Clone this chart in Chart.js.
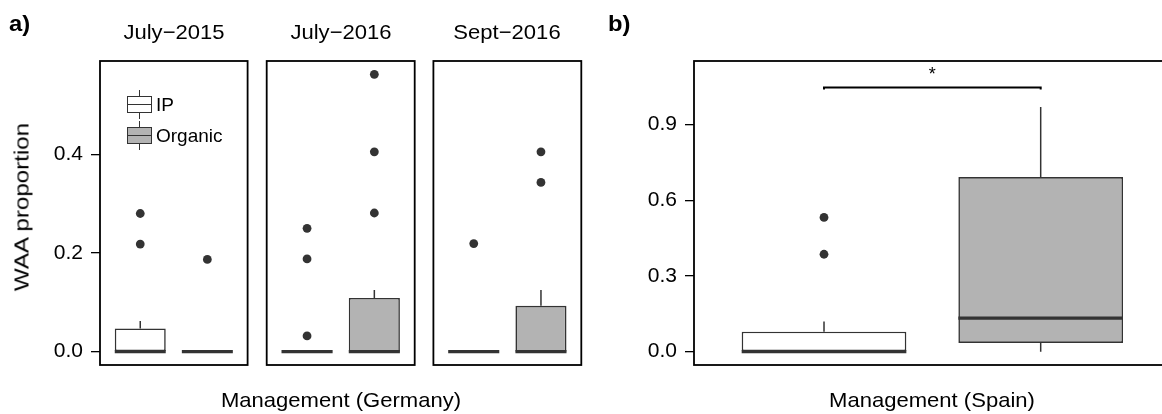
<!DOCTYPE html>
<html>
<head>
<meta charset="utf-8">
<script src="https://cdn.jsdelivr.net/npm/chart.js@4/dist/chart.umd.min.js"></script>
<style>
  html, body { margin: 0; padding: 0; background: #fff; overflow: hidden; width: 1162px; height: 414px; }
  body { position: relative; font-family: "Liberation Sans", Arial, Helvetica, sans-serif; color: #000; }
  canvas { position: absolute; top: 0; }
  .lbl { position: absolute; white-space: nowrap; line-height: 1; transform-origin: 0 0; }
  .key { position: absolute; box-sizing: border-box; border: 1.5px solid #333; }
  .key .mid { position: absolute; left: 0; right: 0; top: 50%; height: 1.5px; margin-top: -0.75px; background: #333; }
  .stem { position: absolute; width: 1.5px; background: #333; }
</style>
</head>
<body>
<canvas id="germany1" width="252" height="414" style="left:0px"></canvas>
<canvas id="germany2" width="158" height="414" style="left:262px"></canvas>
<canvas id="germany3" width="158" height="414" style="left:429px"></canvas>
<canvas id="spain" width="600" height="414" style="left:590px"></canvas>

<script>
// ---- data ---------------------------------------------------------------
const groups = ['IP', 'Organic'];
const groupX = [1, 2];
const germanySurveys = ['July\u22122015', 'July\u22122016', 'Sept\u22122016'];

// five-number summaries: [lower whisker, Q1, median, Q3, upper whisker]
const germanyIP = [
  [0, 0, 0, 0.047, 0.062],
  [0, 0, 0, 0, 0],
  [0, 0, 0, 0, 0]
];
const germanyOrganic = [
  [0, 0, 0, 0, 0],
  [0, 0, 0, 0.109, 0.125],
  [0, 0, 0, 0.093, 0.125]
];
const germanyIPOutliers = [
  [0.280, 0.218],
  [0.250, 0.188, 0.032],
  [0.219]
];
const germanyOrganicOutliers = [
  [0.187],
  [0.562, 0.405, 0.281],
  [0.405, 0.343]
];

const spainIP = [0, 0, 0, 0.079, 0.119];
const spainOrganic = [0, 0.0345, 0.133, 0.692, 0.970];
const spainIPOutliers = [0.532, 0.386];
const spainOrganicOutliers = [];

const germanyTicks = [0, 0.2, 0.4];
const germanyTickLabels = ['0.0', '0.2', '0.4'];
const spainTicks = [0, 0.3, 0.6, 0.9];
const spainTickLabels = ['0.0', '0.3', '0.6', '0.9'];

// significance bracket between the two Spanish groups
const sigPair = [1, 2];
const sigLevel = 1.047;
const sigLabel = '*';

// ---- styling ------------------------------------------------------------
const FONT = '"Liberation Sans", Arial, Helvetica, sans-serif';
const INK = '#333333';
const FILLS = ['#ffffff', '#b3b3b3'];
const BOX_WIDTH = 0.76;

Chart.defaults.font.family = FONT;

const framePlugin = {
  id: 'panelFrame',
  afterDraw(chart) {
    const a = chart.chartArea, c = chart.ctx;
    c.save();
    c.strokeStyle = '#000';
    c.lineWidth = 1.8;
    c.strokeRect(a.left, a.top, a.right - a.left, a.bottom - a.top);
    c.restore();
  }
};

const sigStarPlugin = {
  id: 'sigStar',
  afterDatasetsDraw(chart) {
    const x = chart.scales.x, y = chart.scales.y, c = chart.ctx;
    c.save();
    c.fillStyle = '#000';
    c.font = '18px ' + FONT;
    c.textAlign = 'center';
    c.textBaseline = 'middle';
    c.fillText(sigLabel, x.getPixelForValue((sigPair[0] + sigPair[1]) / 2), y.getPixelForValue(sigLevel) - 12);
    c.restore();
  }
};

function boxDatasets(stats, outliers) {
  const half = BOX_WIDTH / 2;
  const whisker = [], median = [], points = [];
  stats.forEach((s, i) => {
    const x = groupX[i];
    whisker.push({x, y: s[3]}, {x, y: s[4]}, {x, y: null}, {x, y: s[1]}, {x, y: s[0]}, {x, y: null});
    median.push({x: x - half, y: s[2]}, {x: x + half, y: s[2]}, {x, y: null});
    outliers[i].forEach(v => points.push({x, y: v}));
  });
  return [
    { type: 'line', data: median, borderColor: INK, borderWidth: 3.2, borderCapStyle: 'butt',
      pointRadius: 0, spanGaps: false },
    { type: 'line', data: points, showLine: false, pointRadius: 4.4,
      pointBackgroundColor: INK, pointBorderWidth: 0 },
    { type: 'bar', data: stats.map((s, i) => ({x: groupX[i], y: [s[1], s[3]]})),
      backgroundColor: FILLS, borderColor: INK, borderWidth: 1.6, borderSkipped: false,
      barPercentage: BOX_WIDTH, categoryPercentage: 1 },
    { type: 'line', data: whisker, borderColor: INK, borderWidth: 1.5, borderCapStyle: 'butt',
      pointRadius: 0, spanGaps: false }
  ];
}

function xScale() {
  return {
    type: 'linear', min: 0.4, max: 2.6, display: false, offset: false,
    grid: { offset: false },
    afterBuildTicks: s => { s.ticks = groupX.map(v => ({value: v})); }
  };
}

function yScale(min, max, ticks, labels, show, axisWidth) {
  return {
    type: 'linear', min, max, display: show,
    afterBuildTicks: s => { s.ticks = ticks.map(v => ({value: v})); },
    afterFit: s => { if (show) s.width = axisWidth; },
    ticks: { callback: (v, i) => labels[i], font: {size: 21}, color: '#000', padding: 8, autoSkip: false },
    grid: { drawOnChartArea: false, drawTicks: true, tickLength: 9, color: '#000', lineWidth: 1.3 },
    border: { display: false }
  };
}

function makeChart(id, datasets, y, padding, extraPlugins) {
  return new Chart(document.getElementById(id), {
    type: 'bar',
    data: { datasets },
    options: {
      responsive: false, animation: false, events: [],
      layout: { padding },
      plugins: { legend: { display: false }, tooltip: { enabled: false } },
      scales: { x: xScale(), y }
    },
    plugins: [framePlugin].concat(extraPlugins || [])
  });
}

// ---- Germany: three survey panels --------------------------------------
const germanyPads = [
  {left: 0, right: 4, top: 61, bottom: 49},
  {left: 4.7, right: 5.3, top: 61, bottom: 49},
  {left: 4.3, right: 5.7, top: 61, bottom: 49}
];
germanySurveys.forEach((name, k) => {
  makeChart('germany' + (k + 1),
    boxDatasets([germanyIP[k], germanyOrganic[k]], [germanyIPOutliers[k], germanyOrganicOutliers[k]]),
    yScale(-0.027, 0.589, germanyTicks, germanyTickLabels, k === 0, 100),
    germanyPads[k]);
});

// ---- Spain ---------------------------------------------------------------
const spainSets = boxDatasets([spainIP, spainOrganic], [spainIPOutliers, spainOrganicOutliers]);
spainSets.push({
  type: 'line',
  data: [
    {x: sigPair[0], y: sigLevel - 0.008}, {x: sigPair[0], y: sigLevel},
    {x: sigPair[1], y: sigLevel}, {x: sigPair[1], y: sigLevel - 0.008}
  ],
  borderColor: '#000', borderWidth: 2, pointRadius: 0
});
makeChart('spain', spainSets,
  yScale(-0.053, 1.152, spainTicks, spainTickLabels, true, 104),
  {left: 0, right: 19.3, top: 61, bottom: 49},
  [sigStarPlugin]);

// ---- text ---------------------------------------------------------------
const ASC = 0.8465; // baseline offset of Liberation Sans at line-height 1
function label(text, cx, baseline, size, opts = {}) {
  const d = document.createElement('div');
  d.className = 'lbl';
  d.textContent = text;
  d.style.fontSize = size + 'px';
  if (opts.bold) d.style.fontWeight = 'bold';
  d.style.left = cx + 'px';
  d.style.top = (baseline - ASC * size) + 'px';
  const sx = opts.sx || 1;
  d.style.transform = opts.left ? `scaleX(${sx})` : `scaleX(${sx}) translateX(-50%)`;
  document.body.appendChild(d);
  return d;
}

label('a)', 9, 31.5, 22, {bold: true, sx: 1.08, left: true});
label('b)', 608, 31.5, 22, {bold: true, sx: 1.08, left: true});
const titleCenters = [174, 340.7, 507.3];
germanySurveys.forEach((t, k) => label(t, titleCenters[k], 38.3, 21, {sx: 1.05}));
label('Management (Germany)', 340.7, 407, 21, {sx: 1.05});
label('Management (Spain)', 932.4, 407, 21, {sx: 1.05});

// y axis title
const yt = document.createElement('div');
yt.className = 'lbl';
yt.textContent = 'WAA proportion';
yt.style.fontSize = '21px';
yt.style.left = '20.5px';
yt.style.top = '207px';
yt.style.transformOrigin = '50% 50%';
yt.style.transform = 'translate(-50%, -50%) rotate(-90deg) scaleX(1.15)';
document.body.appendChild(yt);

// legend for the management groups
const keyTops = [95.7, 126.7];
groups.forEach((g, i) => {
  const top = keyTops[i];
  const up = document.createElement('div');
  up.className = 'stem';
  up.style.left = (139.5 - 0.75) + 'px'; up.style.top = (top - 5.5) + 'px'; up.style.height = '5.5px';
  document.body.appendChild(up);
  const dn = document.createElement('div');
  dn.className = 'stem';
  dn.style.left = (139.5 - 0.75) + 'px'; dn.style.top = (top + 17.6) + 'px'; dn.style.height = '5.5px';
  document.body.appendChild(dn);
  const k = document.createElement('div');
  k.className = 'key';
  k.style.left = '126.7px'; k.style.top = top + 'px';
  k.style.width = '25.6px'; k.style.height = '17.6px';
  k.style.background = FILLS[i];
  const m = document.createElement('div');
  m.className = 'mid';
  k.appendChild(m);
  document.body.appendChild(k);
  label(g, 156, top + 8.8 + 7, 19, {left: true});
});
</script>
</body>
</html>
